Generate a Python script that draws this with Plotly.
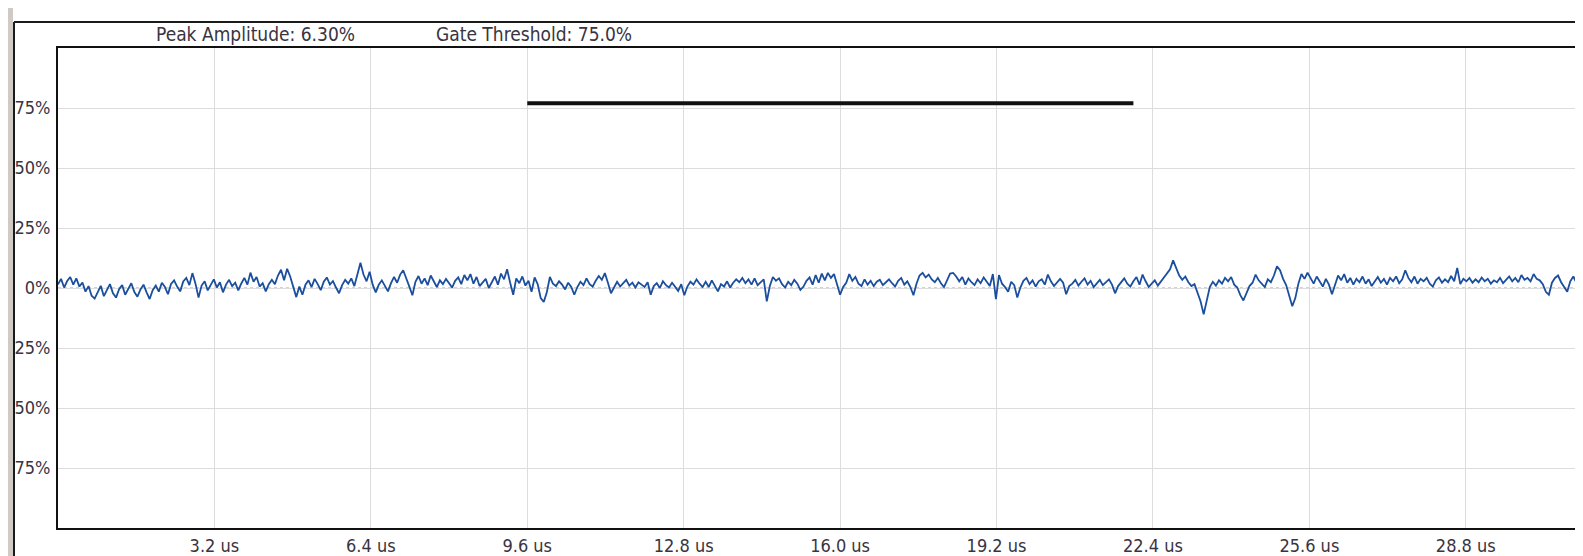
import plotly.graph_objects as go

# ---- data ----
time_step_us = 0.0625
amplitude_pct = [
    1.5, 3.8, 0.2, 2.9, 4.6, 1.4, 4.0, 0.6, 2.3, -1.5, 0.8, -3.2, -4.4, -1.4, 0.9, -3.4,
    -0.8, 1.6, -2.2, -4.0, -0.5, 1.2, -2.8, -0.3, 2.0, -1.7, -3.6, -0.6, 1.4, -1.8, -4.6, -0.9,
    1.0, -1.5, 2.2, 0.4, -2.6, 1.7, 3.2, 0.6, -1.4, 2.7, 4.2, 1.2, 6.2, 1.8, -4.0, 1.0,
    2.8, -1.0, 1.6, 3.6, 0.2, 2.4, -1.8, 1.4, 3.4, 0.8, 2.2, -1.0, 1.9, 4.2, 1.4, 6.4,
    2.6, 4.6, 0.6, 2.0, -1.4, 1.6, 3.4, 1.6, 5.2, 7.6, 3.2, 8.0, 4.8, 0.8, -3.8, 0.6,
    -2.8, 1.4, 3.2, 0.4, 3.8, 1.6, -0.9, 2.6, 4.4, 1.4, 2.9, 0.2, -2.2, 1.2, 3.4, 1.8,
    4.0, 0.8, 5.2, 10.5, 5.6, 2.8, 6.8, 1.4, -1.8, 1.4, 3.2, 0.6, -1.4, 2.0, 4.6, 2.2,
    5.6, 7.4, 3.6, 0.6, -3.0, 2.6, 5.0, 1.8, 4.0, 1.2, 5.2, 2.8, 0.4, 3.2, 1.6, 3.8,
    2.2, 0.2, 3.0, 4.4, 1.6, 5.4, 3.2, 5.8, 1.8, 4.6, 0.8, 2.4, 3.8, 0.0, 2.6, 4.8,
    1.4, 6.0, 3.6, 7.8, 2.2, -2.8, 4.0, 2.0, 4.8, 1.0, 3.0, -1.6, 4.4, 1.6, -4.2, -5.8,
    -1.8, 4.6, 1.8, 0.8, 2.8, 1.4, -0.6, 2.2, 0.4, -2.8, 0.4, 2.6, 1.2, 4.0, 1.6, 0.6,
    3.0, 5.0, 3.4, 6.2, 2.2, -2.2, 0.2, 2.6, 0.6, 2.0, 3.4, 1.0, 2.2, 0.2, 2.4, 1.4,
    0.4, 2.4, -2.8, 0.8, 2.0, 0.0, 2.8, 1.2, 0.2, 2.2, 0.6, -1.2, 1.6, -3.0, 0.6, 2.6,
    1.4, 3.6, 1.8, 0.4, 2.6, 0.4, 3.2, 1.0, -1.4, 1.6, 0.6, 2.8, 0.2, 2.2, 3.6, 2.4,
    4.2, 2.0, 3.6, 1.4, 4.0, 1.2, 2.4, 3.6, -5.6, 0.8, 4.6, 3.0, 4.0, 1.6, 0.2, 2.6,
    1.2, 3.4, 1.8, -0.8, 0.6, 3.0, 4.4, 1.4, 5.4, 2.2, 6.0, 3.2, 6.3, 4.2, 5.8, 1.6,
    -2.8, 0.4, 2.2, 5.8, 3.0, 4.6, 1.8, 0.8, 3.6, 1.4, 3.0, 0.8, 2.6, 3.4, 1.2, 2.4,
    3.6, 2.0, 0.6, 3.0, 4.2, 1.4, 2.8, 0.4, -3.0, 1.8, 5.2, 6.3, 4.4, 5.6, 3.6, 2.4,
    4.2, 2.0, 0.4, 3.2, 6.0, 6.3, 4.8, 2.8, 4.6, 1.4, 4.0, 2.4, 1.2, 3.6, 2.0, 4.4,
    2.8, 0.8, 5.8, -4.6, 5.4, 1.8, 0.4, -1.6, 2.6, 1.2, -4.0, 0.2, 3.0, 4.2, 1.6, 3.2,
    0.6, 2.8, 3.6, 1.4, 5.6, 2.8, 0.8, 2.2, 3.8, 2.2, -2.6, 0.8, 1.8, 3.4, 1.0, 2.6,
    4.0, 1.4, 3.0, 0.4, 2.0, 3.4, 1.2, 2.6, 3.6, 1.4, -2.2, 0.8, 2.4, 4.0, 1.8, 0.6,
    2.8, 4.6, 1.4, 5.6, 2.8, 0.4, 1.8, 3.2, 1.0, 2.6, 4.2, 5.8, 7.8, 11.5, 8.0, 5.2,
    3.4, 4.8, 2.4, 0.8, 1.6, -1.6, -5.6, -11.0, -5.0, 0.4, 2.6, 1.0, 3.2, 1.8, 4.2, 2.8,
    4.6, 1.4, 0.2, -3.0, -5.2, -2.4, 0.8, 2.2, 5.6, 3.2, 1.8, 0.4, 3.6, 2.4, 5.2, 9.0,
    7.4, 3.8, 1.2, -3.8, -7.6, -4.2, 1.8, 5.8, 3.8, 6.4, 4.2, 1.8, 4.8, 2.8, 0.6, 3.8,
    1.4, -2.6, 1.8, 5.2, 3.2, 5.8, 2.2, 4.2, 1.4, 3.8, 2.4, 4.8, 1.8, 3.6, 0.8, 2.8,
    4.6, 2.2, 3.8, 1.4, 4.2, 2.8, 4.8, 2.0, 3.6, 7.4, 4.2, 2.4, 4.8, 1.8, 3.8, 2.8,
    4.2, 1.8, 0.6, 3.2, 4.4, 2.2, 3.6, 2.4, 5.0, 2.8, 8.4, 1.6, 3.8, 2.8, 4.2, 2.2,
    3.6, 2.4, 4.4, 2.8, 3.8, 1.8, 3.2, 2.4, 4.2, 2.0, 3.6, 4.8, 2.8, 4.2, 2.4, 5.4,
    3.4, 4.2, 2.8, 5.8, 3.8, 3.2, 1.6, -1.6, -2.8, 2.2, 4.2, 5.2, 2.4, 0.2, -1.6, 2.8,
    4.8, 2.2, 4.2, 5.2, 3.6,
]
time_us = [i * time_step_us for i in range(len(amplitude_pct))]

gate_start_us = 9.6
gate_end_us = 22.0
gate_level_pct = 77.0

x_tick_vals = [3.2, 6.4, 9.6, 12.8, 16.0, 19.2, 22.4, 25.6, 28.8]
x_tick_text = ["3.2 us", "6.4 us", "9.6 us", "12.8 us", "16.0 us", "19.2 us", "22.4 us", "25.6 us", "28.8 us"]
y_tick_vals = [-75, -50, -25, 0, 25, 50, 75]
y_tick_text = ["75%", "50%", "25%", "0%", "25%", "50%", "75%"]

header_texts = ["Peak Amplitude: 6.30%", "Gate Threshold: 75.0%"]

# ---- figure ----
W, H = 1583, 556
L, R, T, B = 50, 3, 40, 36
FONT = "Liberation Sans Narrow, Arial Narrow, DejaVu Sans Condensed, Liberation Sans, sans-serif"
TXT = "#3a3341"

fig = go.Figure()
fig.add_trace(go.Scatter(
    x=time_us, y=amplitude_pct, mode="lines",
    line=dict(color="#1b4f9e", width=1.8), hoverinfo="skip", showlegend=False,
))
fig.add_trace(go.Scatter(
    x=[gate_start_us, gate_end_us], y=[gate_level_pct, gate_level_pct], mode="lines",
    line=dict(color="#111111", width=4), hoverinfo="skip", showlegend=False,
))

def px2paper_x(px):
    return (px - L) / (W - L - R)

def px2paper_y(py):
    return (H - B - py) / (H - T - B)

shapes = [
    # outer frame (left and top)
    dict(type="line", xref="paper", yref="paper", x0=px2paper_x(6), x1=px2paper_x(6),
         y0=px2paper_y(14), y1=px2paper_y(560), line=dict(color="#1a1a1a", width=2)),
    dict(type="line", xref="paper", yref="paper", x0=px2paper_x(6), x1=px2paper_x(1590),
         y0=px2paper_y(14), y1=px2paper_y(14), line=dict(color="#1a1a1a", width=2)),
    # bezel strip on the far left
    dict(type="rect", xref="paper", yref="paper", x0=px2paper_x(0), x1=px2paper_x(5),
         y0=px2paper_y(0), y1=px2paper_y(560), line=dict(width=0), fillcolor="#cfcac6", layer="below"),
    # bottom of the tick-label strip and the grey panel below it
    dict(type="rect", xref="paper", yref="paper", x0=px2paper_x(6), x1=px2paper_x(1590),
         y0=px2paper_y(549), y1=px2paper_y(560), line=dict(width=0), fillcolor="#d6d6d6", layer="below"),
    dict(type="line", xref="paper", yref="paper", x0=px2paper_x(6), x1=px2paper_x(1590),
         y0=px2paper_y(549), y1=px2paper_y(549), line=dict(color="#1a1a1a", width=2), layer="below"),
    # zero reference (dotted)
    dict(type="line", xref="paper", yref="y", x0=0, x1=1, y0=0, y1=0,
         line=dict(color="#9aa6bb", width=1, dash="dot"), layer="below"),
]

annotations = [
    dict(text=header_texts[0], xref="paper", yref="paper", x=px2paper_x(146), y=px2paper_y(26),
         xanchor="left", yanchor="middle", showarrow=False, font=dict(family=FONT, size=19, color=TXT)),
    dict(text=header_texts[1], xref="paper", yref="paper", x=px2paper_x(426), y=px2paper_y(26),
         xanchor="left", yanchor="middle", showarrow=False, font=dict(family=FONT, size=19, color=TXT)),
]

fig.update_layout(
    width=W, height=H,
    margin=dict(l=L, r=R, t=T, b=B, autoexpand=False),
    paper_bgcolor="#ffffff", plot_bgcolor="#ffffff",
    shapes=shapes, annotations=annotations,
    font=dict(family=FONT, size=18, color=TXT),
    xaxis=dict(
        range=[0, 31.3], tickvals=x_tick_vals, ticktext=x_tick_text,
        showgrid=True, gridcolor="#dcdcdc", gridwidth=1, zeroline=False,
        showline=True, linecolor="#111111", linewidth=2, mirror=True,
        ticks="", ticklabelstandoff=0, tickfont=dict(family=FONT, size=18, color=TXT),
        automargin=False, fixedrange=True,
    ),
    yaxis=dict(
        range=[-100, 100], tickvals=y_tick_vals, ticktext=y_tick_text,
        showgrid=True, gridcolor="#dcdcdc", gridwidth=1, zeroline=False,
        showline=True, linecolor="#111111", linewidth=2, mirror=True,
        ticks="", ticklabelstandoff=2, tickfont=dict(family=FONT, size=18, color=TXT),
        automargin=False, fixedrange=True,
    ),
)

fig.write_html("out.html", config={"displayModeBar": False})
